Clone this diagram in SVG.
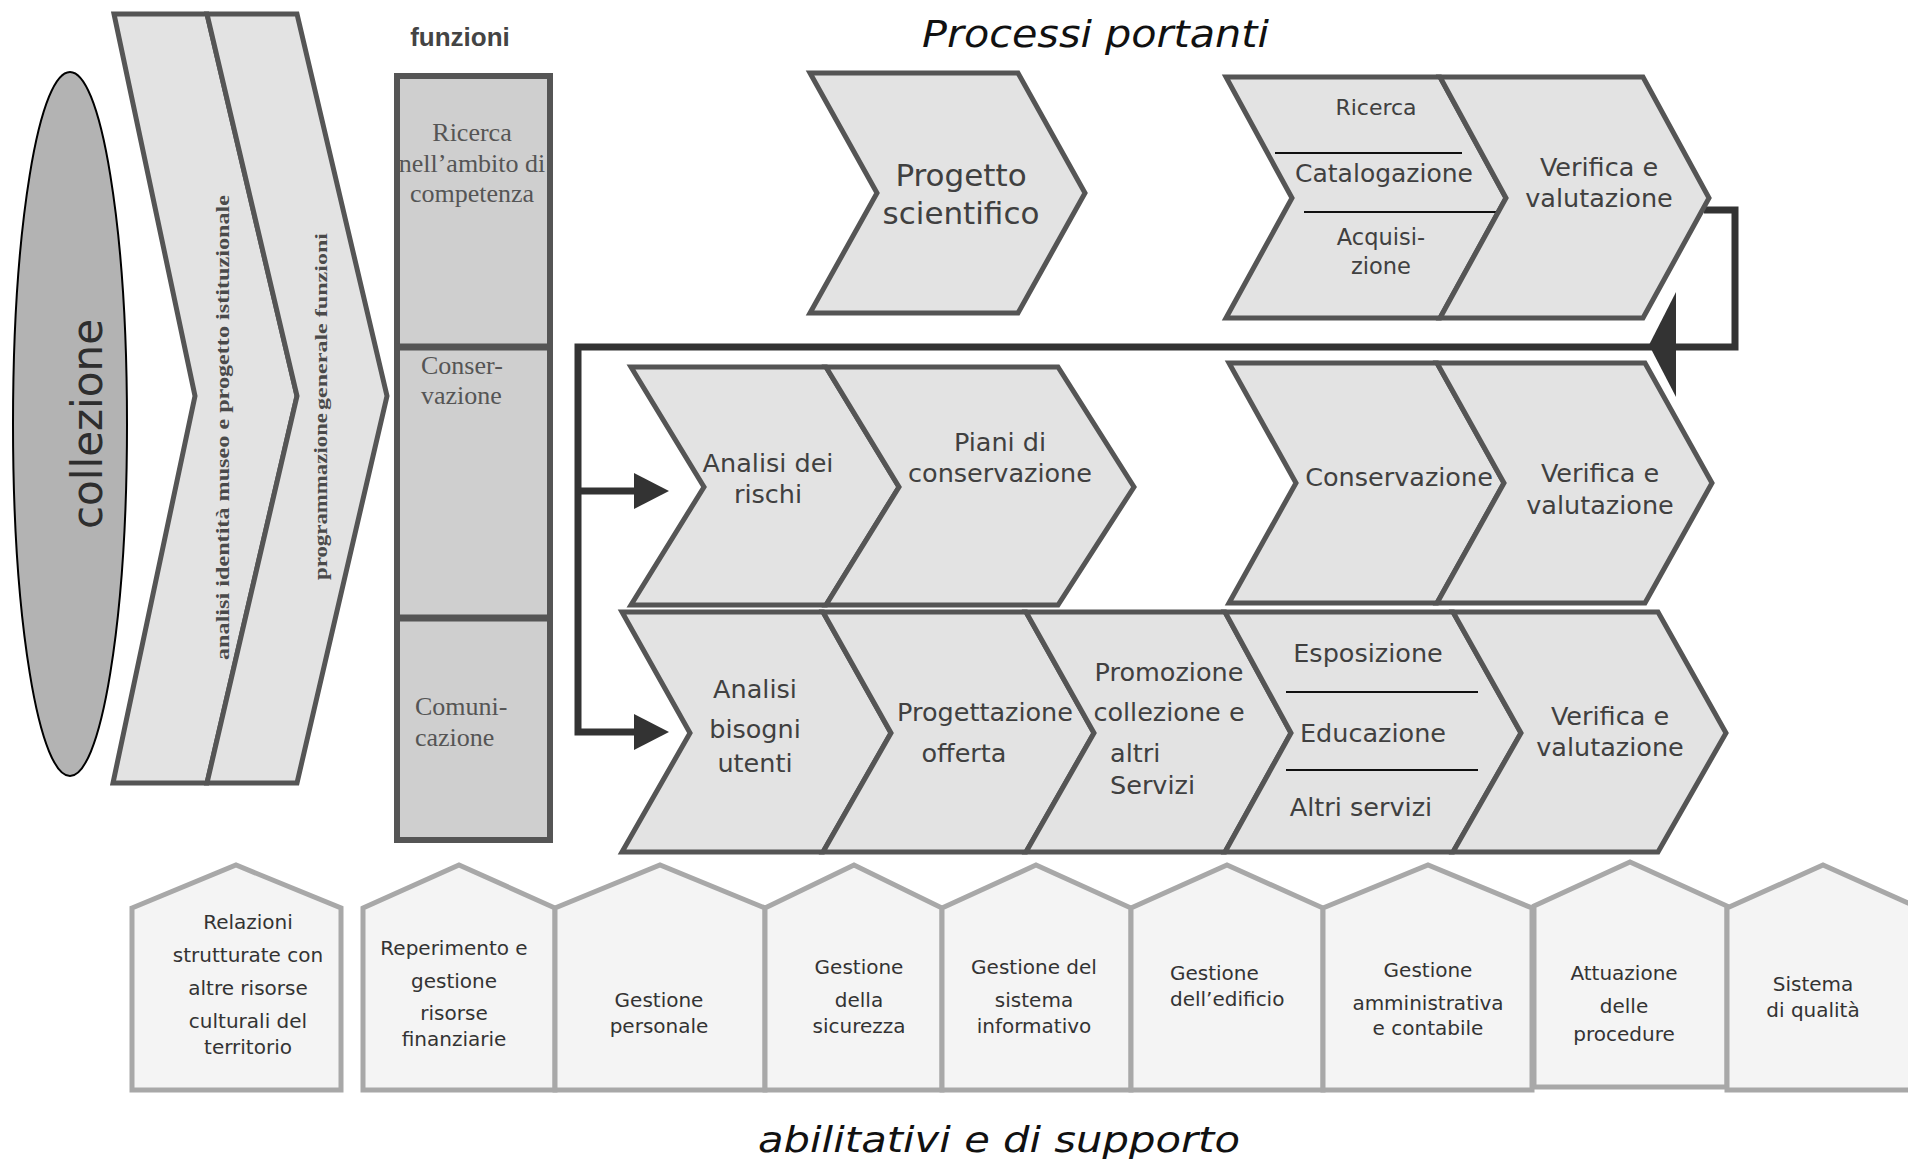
<svg xmlns="http://www.w3.org/2000/svg" width="1908" height="1159" viewBox="0 0 1908 1159">
<style>
.band{fill:#e3e3e3;stroke:#555;stroke-width:5;stroke-linejoin:miter}
.chev{fill:#e3e3e3;stroke:#555;stroke-width:5;stroke-linejoin:miter}
.house{fill:#f4f4f4;stroke:#a8a8a8;stroke-width:5;stroke-linejoin:miter}
.col{fill:#cfcfcf;stroke:#555;stroke-width:6}
.t{font-family:"DejaVu Sans","Liberation Sans",sans-serif;font-size:25.5px;fill:#404040;text-anchor:middle}
.h{font-family:"DejaVu Sans","Liberation Sans",sans-serif;font-size:20px;fill:#333;text-anchor:middle}
.sr{font-family:"Liberation Serif",serif;font-size:26px;fill:#555}
.bt{font-family:"Liberation Serif",serif;font-weight:bold;fill:#4a4a4a}
.conn{fill:none;stroke:#333;stroke-width:7;stroke-linejoin:miter}
.head{fill:#333}
.sep{stroke:#111;stroke-width:2}
.title{font-family:"DejaVu Sans","Liberation Sans",sans-serif;font-style:italic;fill:#111}
.st{text-anchor:start}
</style>

<text class="title" x="922" y="47" style="font-size:38px" textLength="347" lengthAdjust="spacingAndGlyphs">Processi portanti</text>
<text class="title" x="758" y="1152" style="font-size:35px" textLength="482" lengthAdjust="spacingAndGlyphs">abilitativi e di supporto</text>

<g id="collezione">
<ellipse cx="70" cy="424" rx="57" ry="352" fill="#b3b3b3" stroke="#000" stroke-width="2"/>
<text transform="translate(102,424) rotate(-90)" font-family="DejaVu Sans, sans-serif" font-size="43" fill="#2e2e2e" text-anchor="middle" textLength="210" lengthAdjust="spacingAndGlyphs">collezione</text>
</g>

<g id="band-analisi">
<polygon class="band" points="114,14 207,14 297,396 207,783 113,783 195,396"/>
<text class="bt" transform="translate(229,660) rotate(-90)" style="font-size:18px" textLength="465" lengthAdjust="spacingAndGlyphs">analisi identità museo e progetto istituzionale</text>
</g>

<g id="band-programmazione">
<polygon class="band" points="207,14 297,14 387,396 297,783 207,783 297,396"/>
<text class="bt" transform="translate(327,580) rotate(-90)" style="font-size:19px" textLength="167" lengthAdjust="spacingAndGlyphs">programmazione</text>
<text class="bt" transform="translate(327,410) rotate(-90)" style="font-size:16.5px" textLength="177" lengthAdjust="spacingAndGlyphs">generale funzioni</text>
</g>

<g id="funzioni">
<text x="460" y="46" font-family="Liberation Sans, Arial, sans-serif" font-weight="bold" font-size="26" fill="#444" text-anchor="middle">funzioni</text>
<rect class="col" x="397" y="76" width="153" height="764"/>
<line x1="397" y1="347" x2="550" y2="347" stroke="#555" stroke-width="7"/>
<line x1="397" y1="618" x2="550" y2="618" stroke="#555" stroke-width="7"/>
<text class="sr" x="472" y="141" text-anchor="middle">Ricerca</text>
<text class="sr" x="472" y="172" text-anchor="middle">nell’ambito di</text>
<text class="sr" x="472" y="202" text-anchor="middle">competenza</text>
<text class="sr" x="421" y="374">Conser-</text>
<text class="sr" x="421" y="404">vazione</text>
<text class="sr" x="415" y="715">Comuni-</text>
<text class="sr" x="415" y="746">cazione</text>
</g>

<g id="connectors">
<path class="conn" d="M1704 210 H1735 V347 H578 V732 H640"/>
<path class="conn" d="M578 491 H640"/>
<polygon class="head" points="669,491 634,473 634,509"/>
<polygon class="head" points="669,732 634,714 634,750"/>
<polygon class="head" points="1649,345 1676,292 1676,397"/>
</g>

<g id="progetto-scientifico">
<polygon class="chev" points="810,73 1018,73 1085,193 1018,313 810,313 877,193"/>
<text class="t" x="961" y="186" style="font-size:31px">Progetto</text>
<text class="t" x="961" y="224" style="font-size:31px">scientifico</text>
</g>

<g id="ricerca-catalogazione-acquisizione">
<polygon class="chev" points="1226,77 1440,77 1506,198 1440,318 1226,318 1292,198"/>
<line class="sep" x1="1275" y1="153" x2="1462" y2="153"/>
<line class="sep" x1="1304" y1="212" x2="1498" y2="212"/>
<text class="t" x="1376" y="115" style="font-size:22px">Ricerca</text>
<text class="t" x="1384" y="182" style="font-size:25px">Catalogazione</text>
<text class="t" x="1381" y="245" style="font-size:22.5px">Acquisi-</text>
<text class="t" x="1381" y="274" style="font-size:22.5px">zione</text>
</g>

<g id="verifica-1">
<polygon class="chev" points="1440,77 1643,77 1709,198 1643,318 1440,318 1506,198"/>
<text class="t" x="1599" y="176">Verifica e</text>
<text class="t" x="1599" y="207">valutazione</text>
</g>

<g id="analisi-rischi">
<polygon class="chev" points="631,367 826,367 899,487 826,605 631,605 704,487"/>
<text class="t" x="768" y="472">Analisi dei</text>
<text class="t" x="768" y="503">rischi</text>
</g>

<g id="piani-conservazione">
<polygon class="chev" points="826,367 1058,367 1134,487 1058,605 826,605 899,487"/>
<text class="t" x="1000" y="451">Piani di</text>
<text class="t" x="1000" y="482">conservazione</text>
</g>

<g id="conservazione">
<polygon class="chev" points="1229,363 1437,363 1504,483 1437,603 1229,603 1296,483"/>
<text class="t" x="1399" y="486">Conservazione</text>
</g>

<g id="verifica-2">
<polygon class="chev" points="1437,363 1645,363 1712,483 1645,603 1437,603 1504,483"/>
<text class="t" x="1600" y="482">Verifica e</text>
<text class="t" x="1600" y="514">valutazione</text>
</g>

<g id="analisi-bisogni">
<polygon class="chev" points="622,612 823,612 891,733 823,852 622,852 690,733"/>
<text class="t" x="755" y="698">Analisi</text>
<text class="t" x="755" y="738">bisogni</text>
<text class="t" x="755" y="772">utenti</text>
</g>

<g id="progettazione-offerta">
<polygon class="chev" points="823,612 1026,612 1094,733 1026,852 823,852 891,733"/>
<text class="t" x="985" y="721">Progettazione</text>
<text class="t" x="964" y="762">offerta</text>
</g>

<g id="promozione">
<polygon class="chev" points="1026,612 1225,612 1291,733 1225,852 1026,852 1094,733"/>
<text class="t" x="1169" y="681">Promozione</text>
<text class="t" x="1169" y="721">collezione e</text>
<text class="t st" x="1110" y="762">altri</text>
<text class="t st" x="1110" y="794">Servizi</text>
</g>

<g id="esposizione-educazione-servizi">
<polygon class="chev" points="1225,612 1453,612 1521,733 1453,852 1225,852 1291,733"/>
<line class="sep" x1="1286" y1="692" x2="1478" y2="692"/>
<line class="sep" x1="1286" y1="770" x2="1478" y2="770"/>
<text class="t" x="1368" y="662">Esposizione</text>
<text class="t" x="1373" y="742">Educazione</text>
<text class="t" x="1361" y="816">Altri servizi</text>
</g>

<g id="verifica-3">
<polygon class="chev" points="1453,612 1658,612 1726,733 1658,852 1453,852 1521,733"/>
<text class="t" x="1610" y="725">Verifica e</text>
<text class="t" x="1610" y="756">valutazione</text>
</g>

<g id="relazioni">
<polygon class="house" points="132,908 236,865 341,908 341,1090 132,1090"/>
<text class="h" x="248" y="929">Relazioni</text>
<text class="h" x="248" y="962">strutturate con</text>
<text class="h" x="248" y="995">altre risorse</text>
<text class="h" x="248" y="1028">culturali del</text>
<text class="h" x="248" y="1054">territorio</text>
</g>

<g id="risorse-finanziarie">
<polygon class="house" points="363,908 459,865 555,908 555,1090 363,1090"/>
<text class="h" x="454" y="955">Reperimento e</text>
<text class="h" x="454" y="988">gestione</text>
<text class="h" x="454" y="1020">risorse</text>
<text class="h" x="454" y="1046">finanziarie</text>
</g>

<g id="gestione-personale">
<polygon class="house" points="555,908 660,865 765,908 765,1090 555,1090"/>
<text class="h" x="659" y="1007">Gestione</text>
<text class="h" x="659" y="1033">personale</text>
</g>

<g id="gestione-sicurezza">
<polygon class="house" points="765,908 854,865 942,908 942,1090 765,1090"/>
<text class="h" x="859" y="974">Gestione</text>
<text class="h" x="859" y="1007">della</text>
<text class="h" x="859" y="1033">sicurezza</text>
</g>

<g id="sistema-informativo">
<polygon class="house" points="942,908 1036,865 1131,908 1131,1090 942,1090"/>
<text class="h" x="1034" y="974">Gestione del</text>
<text class="h" x="1034" y="1007">sistema</text>
<text class="h" x="1034" y="1033">informativo</text>
</g>

<g id="gestione-edificio">
<polygon class="house" points="1131,908 1227,865 1323,908 1323,1090 1131,1090"/>
<text class="h st" x="1170" y="980">Gestione</text>
<text class="h st" x="1170" y="1006">dell’edificio</text>
</g>

<g id="gestione-amministrativa">
<polygon class="house" points="1323,908 1428,865 1532,908 1532,1090 1323,1090"/>
<text class="h" x="1428" y="977">Gestione</text>
<text class="h" x="1428" y="1010">amministrativa</text>
<text class="h" x="1428" y="1035">e contabile</text>
</g>

<g id="attuazione-procedure">
<polygon class="house" points="1534,906 1630,862 1727,906 1727,1087 1534,1087"/>
<text class="h" x="1624" y="980">Attuazione</text>
<text class="h" x="1624" y="1013">delle</text>
<text class="h" x="1624" y="1041">procedure</text>
</g>

<g id="sistema-qualita">
<polygon class="house" points="1727,908 1823,865 1919,908 1919,1090 1727,1090"/>
<text class="h" x="1813" y="991">Sistema</text>
<text class="h" x="1813" y="1017">di qualità</text>
</g>
</svg>
